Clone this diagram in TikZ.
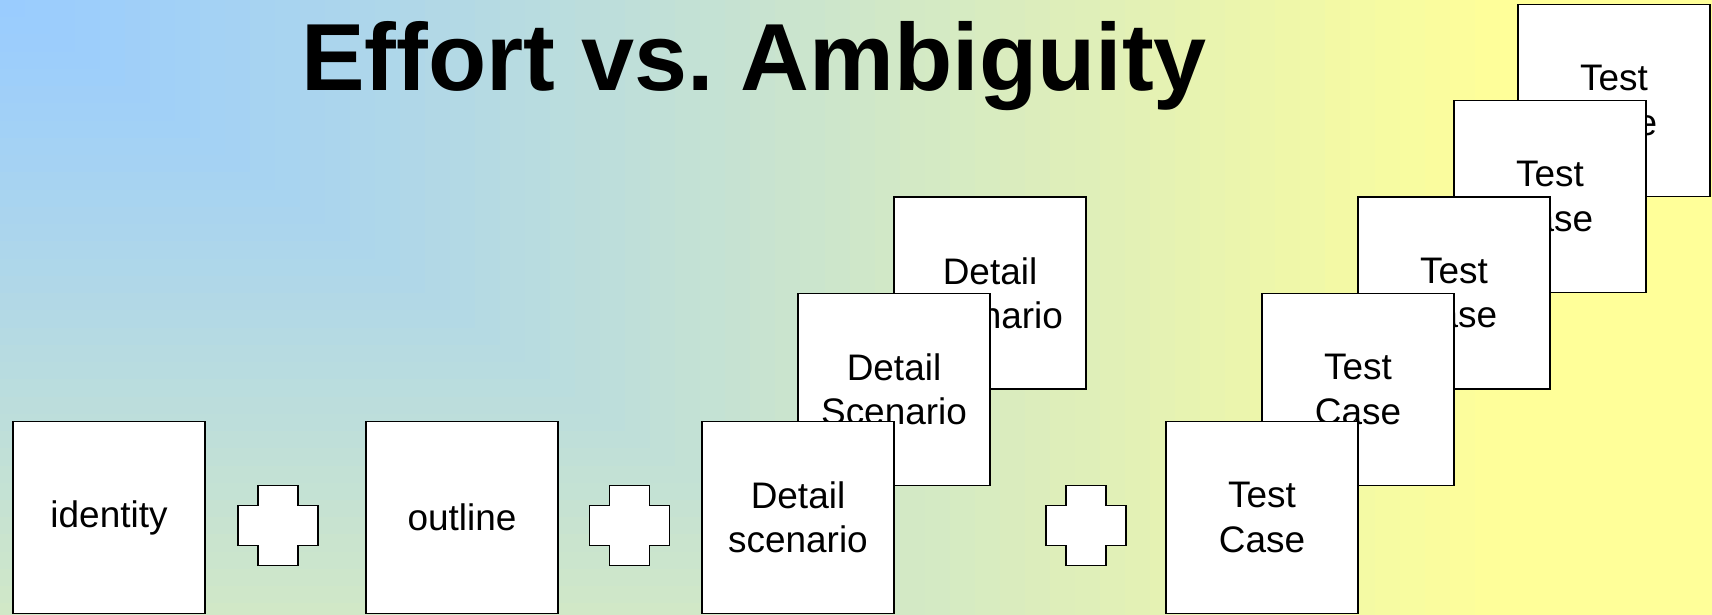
\documentclass[tikz,border=0pt]{standalone}
\usepackage{fontspec}
\setmainfont{Liberation Sans}
\definecolor{blu}{HTML}{99CCFF}
\definecolor{yel}{HTML}{FFFF99}
\tikzset{
  card/.style={draw=black, line width=1pt, fill=white,
    minimum width=144pt, minimum height=144pt, inner sep=0pt,
    align=center, font=\fontsize{27.7pt}{33.3pt}\selectfont},
  plussign/.pic={
    \draw[line width=1pt, fill=white]
      (-20,-40) -- (20,-40) -- (20,-20) -- (40,-20) -- (40,20) -- (20,20)
      -- (20,40) -- (-20,40) -- (-20,20) -- (-40,20) -- (-40,-20) -- (-20,-20) -- cycle;
  }
}
\begin{document}
\begin{tikzpicture}[x=0.75pt,y=-0.75pt]
\useasboundingbox (0,0) rectangle (1712,614);

% corner gradient: rectangular bands growing from the top-left corner
\begin{scope}
  \clip (0,0) rectangle (1712,614);
  \foreach \k in {72,71,...,0}{
    \pgfmathsetmacro{\s}{\k*25+12.5}
    \pgfmathsetmacro{\p}{min(100,100*(\s/1500)^1.15)}
    \fill[yel!\p!blu] (0,0) rectangle ({\k*25+25},{(\k*25+25)/1.45});
  }
\end{scope}

% title
\node[font=\fontsize{71.5pt}{80pt}\selectfont\bfseries, anchor=base, inner sep=0pt]
  (title) at (754,90) {Effort vs.\ Ambiguity};

% first stage
\node[card] (identity) at (109,517.5) {identity};
\pic at (278,525.5) {plussign};
\node[card] (outline) at (462,517.5) {outline};
\pic at (629.5,525.5) {plussign};

% detail scenarios, back to front
\node[card] (ds3) at (990,293) {Detail\\Scenario};
\node[card] (ds2) at (894,389.5) {Detail\\Scenario};
\node[card] (ds1) at (798,517.5) {Detail\\scenario};
\pic at (1086,525.5) {plussign};

% test cases, back to front
\node[card] (tc5) at (1614,100.5) {Test\\Case};
\node[card] (tc4) at (1550,196.5) {Test\\Case};
\node[card] (tc3) at (1454,293) {Test\\Case};
\node[card] (tc2) at (1358,389.5) {Test\\Case};
\node[card] (tc1) at (1262,517.5) {Test\\Case};
\end{tikzpicture}
\end{document}
